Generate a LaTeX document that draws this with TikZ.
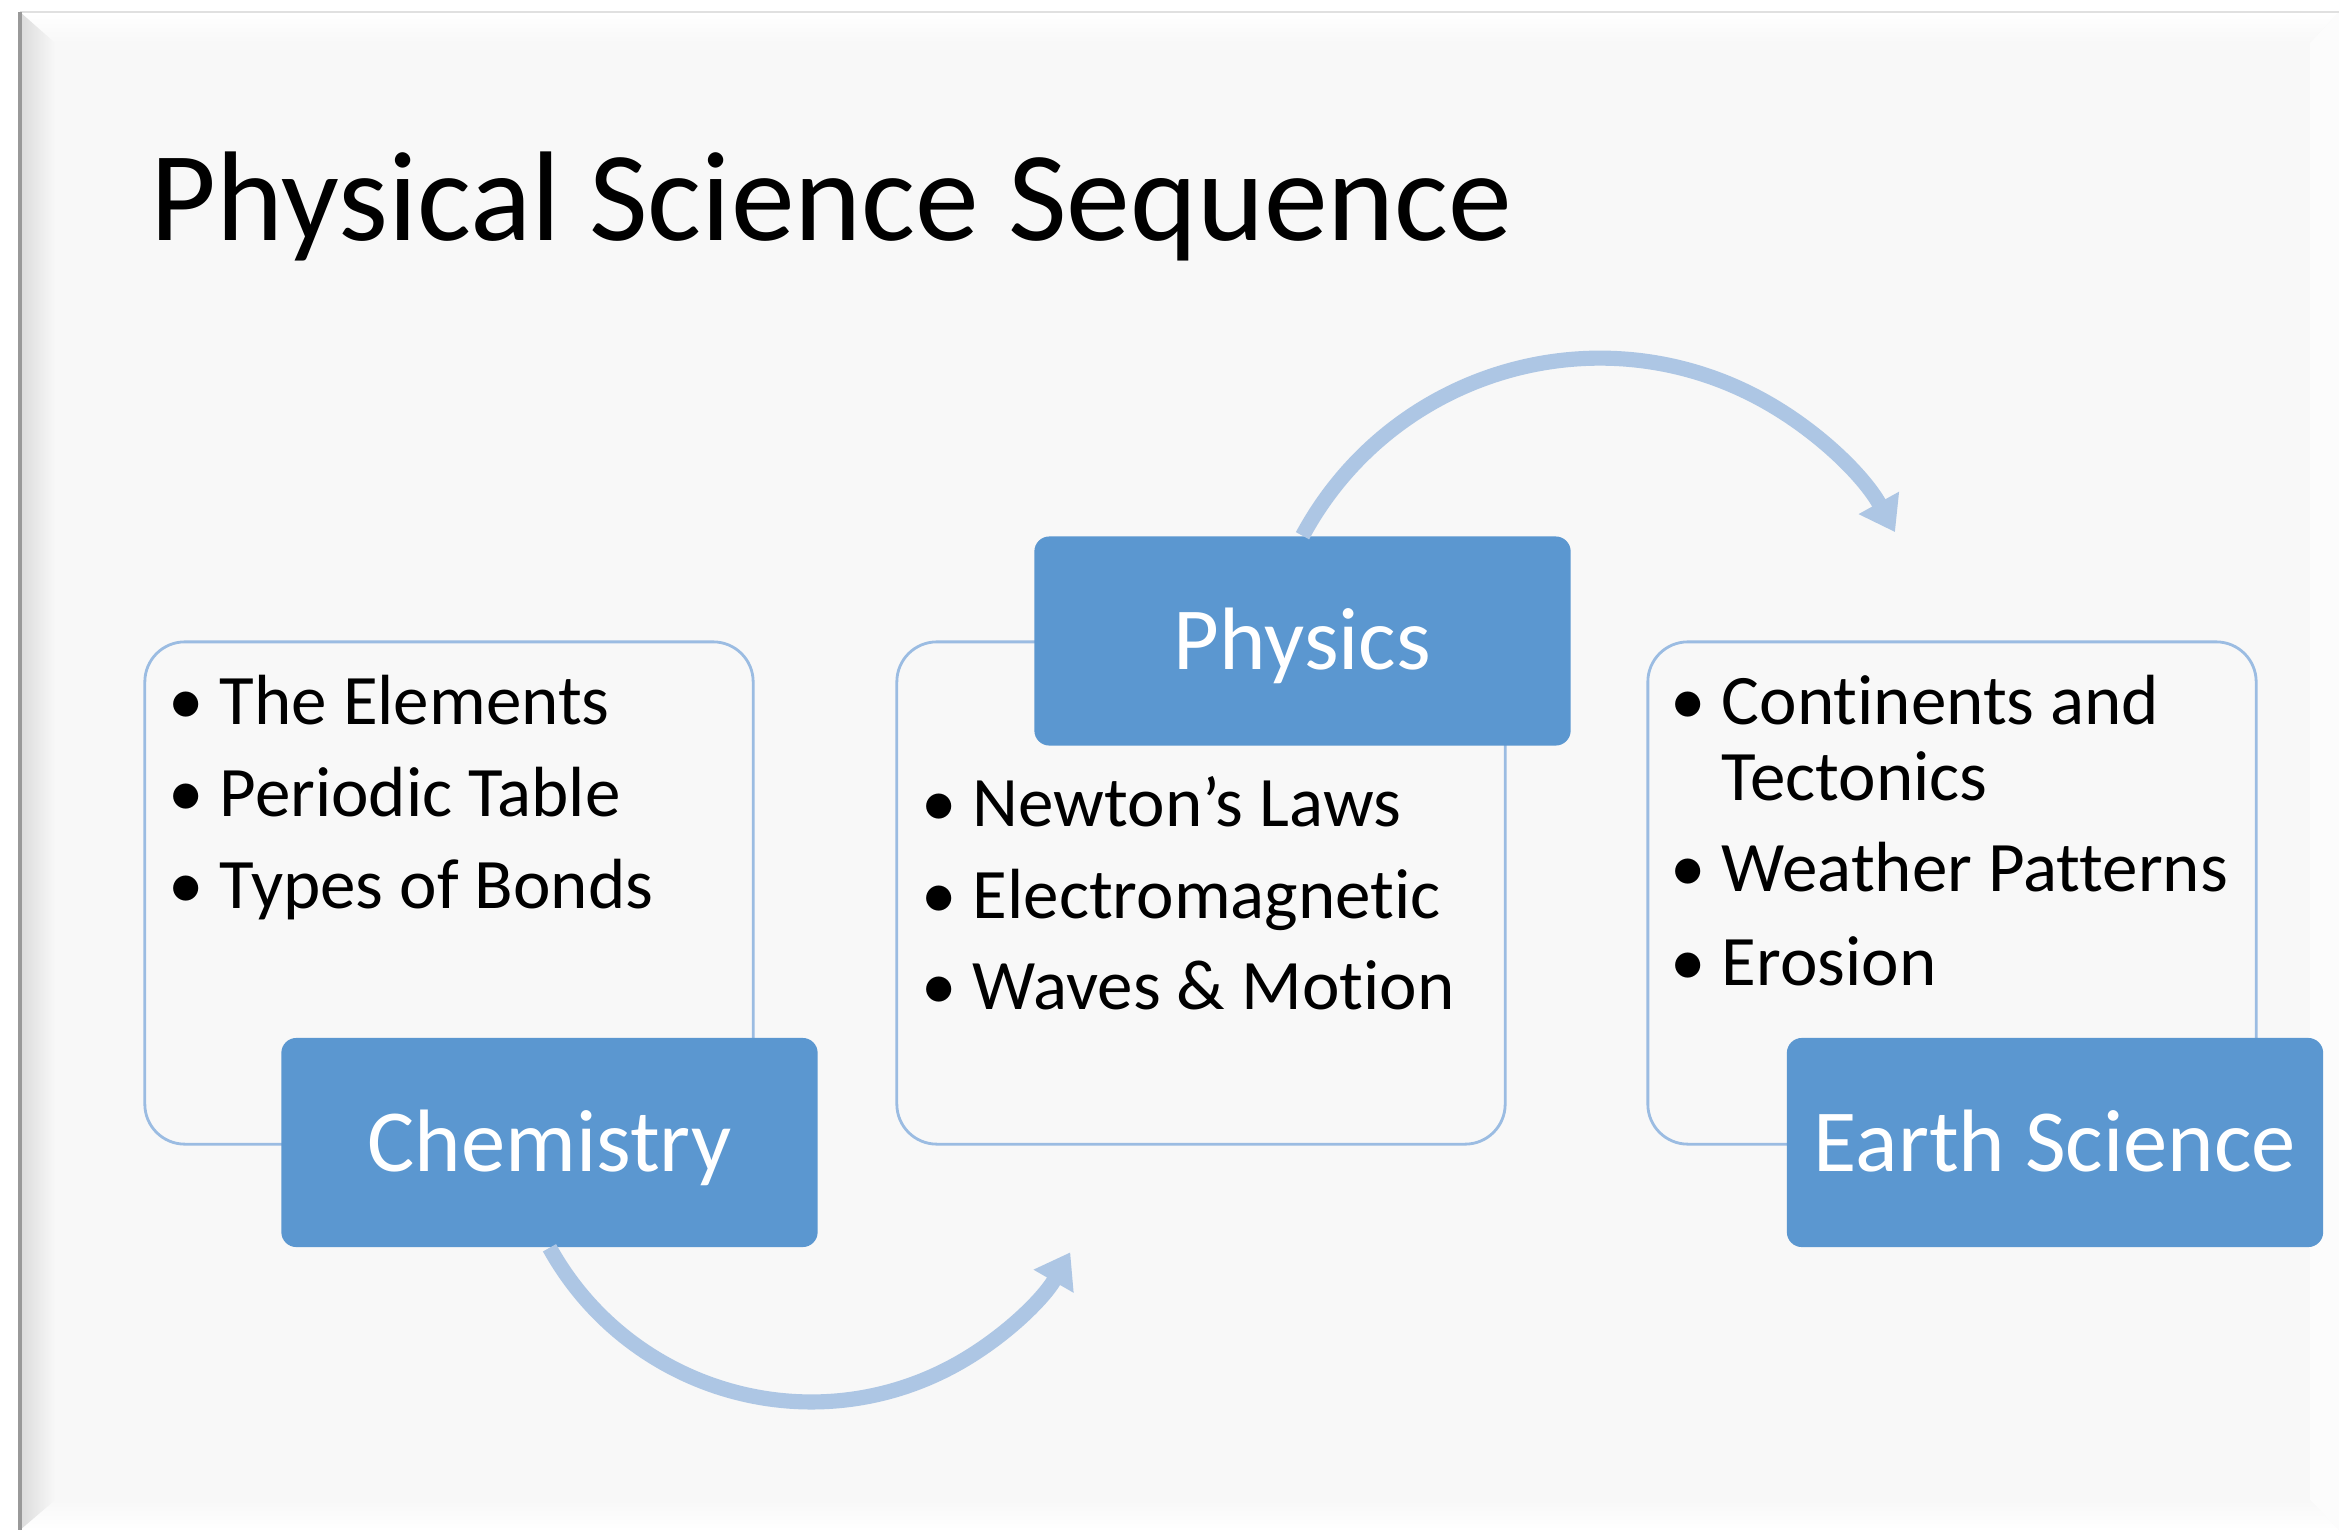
\documentclass[tikz,border=0pt]{standalone}
\usepackage{fontspec}
\setmainfont{Carlito}[Ligatures={NoCommon,NoContextual}]
\usetikzlibrary{arrows.meta}
\definecolor{panel}{HTML}{F8F8F8}
\definecolor{accent}{HTML}{5B97D0}
\definecolor{outl}{HTML}{9BBCE2}
\definecolor{arrowc}{HTML}{ADC6E4}
\newcommand{\bul}{\llap{\makebox[0pt]{•}\hspace{9.6pt}}}
\begin{document}
\begin{tikzpicture}[x=0.01cm,y=0.01cm,
  outlinebox/.style={draw=outl, line width=0.8pt, fill=panel, rounded corners=0.4cm,
    minimum width=6.08cm, minimum height=5.02cm, inner sep=0pt},
  headbox/.style={fill=accent, rounded corners=0.15cm, minimum width=5.36cm,
    minimum height=2.09cm, inner sep=0pt, text=white,
    font=\fontsize{25.2}{30}\selectfont, text height=16.2pt, text depth=0pt},
  itemtext/.style={anchor=base west, inner sep=0pt,
    font=\fontsize{20.2}{24}\selectfont, text=black},
  cyclearrow/.style={draw=arrowc, line width=4.3pt,
    -{Triangle[width=12.5pt,length=9.5pt]}}
]
\useasboundingbox (0,0) rectangle (2339,-1530);
% slide background with bevel frame
\fill[white] (0,0) rectangle (2339,-1530);
\fill[panel] (20,-12) rectangle (2339,-1530);
\shade[top color=white, bottom color=panel] (20,-12) -- (2339,-12) -- (2310,-43) -- (55,-43) -- cycle;
\fill[white!55!panel] (2339,-12) -- (2339,-1530) -- (2310,-1500) -- (2310,-43) -- cycle;
\shade[top color=panel, bottom color=white] (20,-1530) -- (55,-1500) -- (2310,-1500) -- (2339,-1530) -- cycle;
\shade[left color=black!14, right color=panel] (20,-12) -- (55,-43) -- (55,-1500) -- (20,-1530) -- cycle;
\draw[black!12, line width=0.5pt] (20,-12) -- (2339,-12);
\draw[black!40, line width=1pt] (20,-12) -- (20,-1530);

% title
\node[anchor=base west, inner sep=0pt, font=\fontsize{36.3}{43}\selectfont] (title) at (150,-240) {Physical Science Sequence};

% outline boxes
\node[outlinebox] (chembox) at (449,-893) {};
\node[outlinebox] (physbox) at (1201,-893) {};
\node[outlinebox] (earthbox) at (1952,-893) {};

% heading boxes
\node[headbox] (chem) at (549.5,-1142.5) {Chemistry};
\node[headbox] (phys) at (1302.5,-641) {Physics};
\node[headbox] (earth) at (2055,-1142.5) {Earth Science};

% cycle arrows
\draw[cyclearrow] (chem.south) arc[start angle=209, end angle=330, radius=2.99cm];
\draw[cyclearrow] (phys.north) arc[start angle=151.7, end angle=29, radius=3.374cm];

% bullet items
\node[itemtext] (c1) at (219,-724) {\bul The Elements};
\node[itemtext] (c2) at (219,-816) {\bul Periodic Table};
\node[itemtext] (c3) at (219,-908) {\bul Types of Bonds};
\node[itemtext] (p1) at (972,-826) {\bul Newton’s Laws};
\node[itemtext] (p2) at (972,-918) {\bul Electromagnetic};
\node[itemtext] (p3) at (972,-1009) {\bul Waves \& Motion};
\node[itemtext] (e1) at (1721,-724) {\bul Continents and};
\node[itemtext] (e2) at (1721,-800) {Tectonics};
\node[itemtext] (e3) at (1721,-891) {\bul Weather Patterns};
\node[itemtext] (e4) at (1721,-985) {\bul Erosion};
\end{tikzpicture}
\end{document}
